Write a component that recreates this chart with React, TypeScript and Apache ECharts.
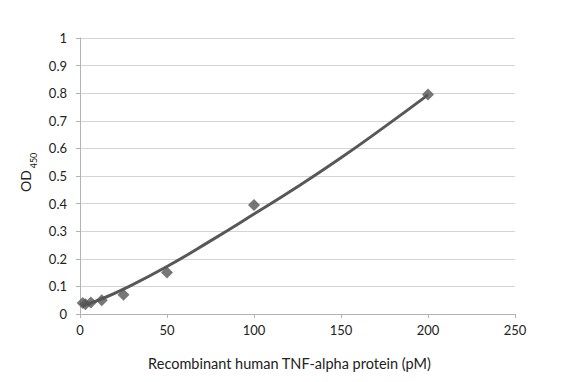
import React, { useEffect, useRef } from "react";
import * as echarts from "echarts";

const concentrations = [1.56, 3.125, 6.25, 12.5, 25, 50, 100, 200];
const odValues = [0.04, 0.035, 0.042, 0.05, 0.07, 0.15, 0.395, 0.795];

const trendX = [1.56, 12.5, 25, 50, 75, 100, 125, 150, 175, 200];
const trendY = [0.03, 0.055, 0.09, 0.172, 0.265, 0.362, 0.461, 0.566, 0.678, 0.794];

const xTicks = [0, 50, 100, 150, 200, 250];
const yTicks = [0, 0.1, 0.2, 0.3, 0.4, 0.5, 0.6, 0.7, 0.8, 0.9, 1];

const xTitle = "Recombinant human TNF-alpha protein (pM)";
const yTitleMain = "OD";
const yTitleSub = "450";

export default function App() {
  const ref = useRef<HTMLDivElement>(null);
  useEffect(() => {
    if (!ref.current) return;
    const chart = echarts.init(ref.current, undefined, { renderer: "svg" });
    const font = "Lato, 'Open Sans', sans-serif";
    const textColor = "#222222";
    chart.setOption({
      animation: false,
      backgroundColor: "#ffffff",
      grid: { left: 80, right: 67, top: 38, bottom: 68, containLabel: false },
      xAxis: {
        type: "value",
        min: xTicks[0],
        max: xTicks[xTicks.length - 1],
        interval: 50,
        name: xTitle,
        nameLocation: "middle",
        nameGap: 42,
        nameTextStyle: { fontFamily: font, fontSize: 14.5, color: textColor, padding: [0, 16, 0, 0] },
        axisLine: { show: true, lineStyle: { color: "#b3b3b3", width: 1 } },
        axisTick: { show: true, inside: false, length: 4, lineStyle: { color: "#b3b3b3" } },
        axisLabel: { margin: 9, fontFamily: font, fontSize: 13, color: textColor },
        splitLine: { show: false },
      },
      yAxis: {
        type: "value",
        min: yTicks[0],
        max: yTicks[yTicks.length - 1],
        interval: 0.1,
        axisLine: { show: true, lineStyle: { color: "#b3b3b3", width: 1 } },
        axisTick: { show: true, inside: false, length: 4, lineStyle: { color: "#b3b3b3" } },
        axisLabel: { margin: 13, fontFamily: font, fontSize: 13, color: textColor },
        splitLine: { show: true, lineStyle: { color: "#d4d4d4", width: 1 } },
      },
      graphic: [
        {
          type: "text",
          x: 25.5,
          y: 181,
          rotation: Math.PI / 2,
          style: {
            text: yTitleMain,
            font: `14px ${font}`,
            fill: textColor,
            textAlign: "center",
            textVerticalAlign: "middle",
          },
        },
        {
          type: "text",
          x: 33,
          y: 160.5,
          rotation: Math.PI / 2,
          style: {
            text: yTitleSub,
            font: `9px ${font}`,
            fill: textColor,
            textAlign: "center",
            textVerticalAlign: "middle",
          },
        },
      ],
      series: [
        {
          type: "line",
          name: "trend",
          data: trendX.map((x, i) => [x, trendY[i]]),
          smooth: true,
          showSymbol: false,
          symbol: "none",
          lineStyle: { color: "#585858", width: 3 },
          z: 2,
        },
        {
          type: "scatter",
          name: "OD",
          data: concentrations.map((x, i) => [x, odValues[i]]),
          symbol: "diamond",
          symbolSize: 12,
          itemStyle: { color: "#555555" },
          z: 3,
        },
      ],
    });
    return () => chart.dispose();
  }, []);
  return <div ref={ref} style={{ width: 582, height: 382, position: "absolute", left: 0, top: 0 }} />;
}
